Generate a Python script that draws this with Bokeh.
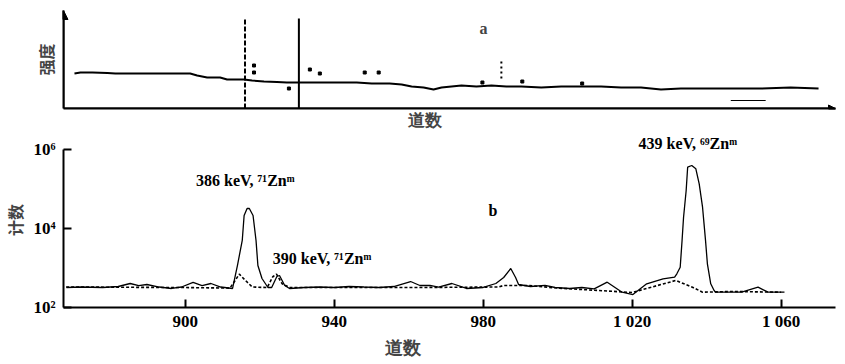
from bokeh.plotting import figure
from bokeh.layouts import column
from bokeh.models import FixedTicker, Label, Arrow, NormalHead, Range1d, Title
from bokeh.embed import file_html
from bokeh.resources import INLINE

# ---------------- data: panel a (full spectrum, arbitrary units) ----------------
a_channel = [11, 17, 29, 44, 52, 89, 127, 134, 144, 157, 164, 181, 189, 201, 214, 224,
             239, 259, 279, 294, 309, 327, 339, 349, 361, 371, 379, 389, 399, 414, 429,
             444, 459, 479, 499, 519, 539, 559, 579, 599, 619, 639, 659, 679, 699, 729, 757]
a_intensity = [35, 36, 36, 35.5, 35, 35, 35, 33, 31, 31, 29, 29, 28, 27, 26.5, 26,
               26, 26, 26, 26, 25, 25, 24, 22, 21, 19, 21, 22, 23, 22, 23,
               22, 22, 21, 22, 22, 22, 21, 21, 19, 20, 20, 20, 20, 20, 21, 20]
a_dot_x = [191, 191, 247, 257, 226, 302, 316, 420, 460, 520]
a_dot_y = [43, 36, 39, 35, 20, 36, 36, 26, 27, 25]
a_low_x = [669, 704]
a_low_y = [8, 8]
a_marker_x = [182, 236]
a_marker_top = [91, 90]
a_spike_x = [439]
a_spike_lo = [30]
a_spike_hi = [50]

# ---------------- data: panel b (zoomed gamma spectrum) ----------------
b_channel = [868.1, 872, 877.8, 882, 885.2, 887.5, 889.7, 893, 896.3, 899, 902.1, 904.5,
             906.9, 909.5, 912.7, 914.0, 915.3, 915.8, 916.6, 917.2, 918.2, 919.0, 919.5,
             920.6, 922.2, 923.2, 924.6, 925.3, 926.7, 928.0, 932, 936, 940, 944, 948, 952,
             956, 960.5, 963, 965.7, 968, 971.6, 975.5, 980, 983.4, 985.5, 987.4, 988.7,
             989.5, 992.7, 996.6, 999.3, 1003.2, 1006.5, 1009.8, 1013.3, 1017.3, 1020.2,
             1023.9, 1028.3, 1031.4, 1032.0, 1032.9, 1033.4, 1033.8, 1034.5, 1034.9, 1036.0,
             1037.1, 1038.0, 1038.9, 1039.3, 1039.7, 1040.2, 1041.1, 1042.0, 1042.4, 1049.4,
             1053.8, 1056.5, 1060.9]
b_counts = [321, 330, 321, 340, 405, 360, 382, 330, 303, 330, 430, 360,
            405, 330, 303, 1156, 4970, 21300, 32100, 32100, 21300, 4970, 1156,
            542, 321, 321, 609, 646, 361, 303, 321, 330, 321, 340, 330, 321,
            340, 455, 361, 361, 330, 405, 303, 321, 405, 574, 970, 574,
            382, 340, 361, 321, 303, 321, 297, 437, 244, 213,
            398, 533, 585, 713, 1047, 4970, 19300, 91600, 356000, 393000,
            324000, 135000, 34600, 13100, 4970, 1276, 398, 269, 244, 244,
            327, 244, 244]
bg_channel = [868, 900, 912, 913.5, 914.5, 916, 918, 922, 923.5, 924.5, 926, 928, 960,
              984, 985.5, 992, 1000, 1020, 1031.7, 1036.2, 1038.9, 1046.8, 1060]
bg_counts = [330, 320, 310, 500, 700, 500, 330, 320, 600, 700, 400, 320, 320,
             330, 361, 361, 310, 240, 483, 326, 244, 254, 244]
b_ticks_x = [900, 940, 980, 1020, 1060]
b_ticks_x_labels = ["900", "940", "980", "1 020", "1 060"]
b_ticks_y = [100, 10000, 1000000]
b_ticks_y_labels = ["10²", "10⁴", "10⁶"]

SERIF = "Liberation Serif"
CJK = "Noto Sans CJK SC"

# ---------------- panel a ----------------
pa = figure(width=845, height=132, x_range=Range1d(0, 774), y_range=Range1d(0, 98),
            output_backend="svg", toolbar_location=None,
            min_border_left=61, min_border_right=10, min_border_top=10, min_border_bottom=24)
pa.outline_line_color = None
pa.grid.visible = False
for ax in (pa.xaxis[0], pa.yaxis[0]):
    ax.ticker = FixedTicker(ticks=[])
    ax.axis_line_width = 2
    ax.axis_line_color = "black"
    ax.major_tick_in = 0
    ax.major_tick_out = 0
    ax.major_tick_line_color = None
    ax.minor_tick_line_color = None
    ax.major_label_standoff = 0
pa.xaxis.axis_label_standoff = 0
pa.yaxis.axis_label = "强度"
pa.yaxis.axis_label_text_font = CJK
pa.yaxis.axis_label_text_font_style = "bold"
pa.yaxis.axis_label_text_font_size = "16px"
pa.yaxis.axis_label_standoff = 6
pa.add_layout(Title(text="道数", align="left", offset=344, standoff=1,
                    text_font=SERIF, text_font_style="bold", text_font_size="17px"), "below")

pa.line(a_channel, a_intensity, line_color="black", line_width=2)
pa.scatter(a_dot_x, a_dot_y, marker="square", size=3, color="black")
pa.line(a_low_x, a_low_y, line_color="black", line_width=1)
pa.segment(x0=[a_marker_x[0]], y0=[0], x1=[a_marker_x[0]], y1=[a_marker_top[0]],
           line_color="black", line_width=2, line_dash="5 2")
pa.segment(x0=[a_marker_x[1]], y0=[0], x1=[a_marker_x[1]], y1=[a_marker_top[1]],
           line_color="black", line_width=2)
pa.segment(x0=a_spike_x, y0=a_spike_lo, x1=a_spike_x, y1=a_spike_hi,
           line_color="black", line_width=2, line_dash="2 3")
pa.add_layout(Arrow(end=NormalHead(size=9, fill_color="black", line_color="black"),
                    x_start=0, y_start=0, x_end=0, y_end=98, line_width=2))
pa.add_layout(Arrow(end=NormalHead(size=7, fill_color="black", line_color="black"),
                    x_start=0, y_start=0, x_end=774, y_end=0, line_width=2))
pa.add_layout(Label(x=421, y=80, text="a", text_font=SERIF, text_font_style="bold",
                    text_font_size="16px", text_align="center", text_baseline="middle"))

# ---------------- panel b ----------------
pb = figure(width=845, height=230, x_range=Range1d(867.3, 1074.6),
            y_range=Range1d(100, 10 ** 6.43),
            y_axis_type="log", output_backend="svg", toolbar_location=None,
            min_border_left=60, min_border_right=0, min_border_top=0, min_border_bottom=55)
pb.outline_line_color = None
pb.grid.visible = False
xa = pb.xaxis[0]
xa.ticker = FixedTicker(ticks=b_ticks_x)
xa.major_label_overrides = dict(zip(b_ticks_x, b_ticks_x_labels))
xa.axis_label_standoff = 0
ya = pb.yaxis[0]
ya.ticker = FixedTicker(ticks=b_ticks_y)
ya.major_label_overrides = dict(zip(b_ticks_y, b_ticks_y_labels))
ya.bounds = (b_ticks_y[0], b_ticks_y[-1])
for ax in (xa, ya):
    ax.axis_line_width = 2
    ax.axis_line_color = "black"
    ax.major_tick_in = 8
    ax.major_tick_out = 0
    ax.major_tick_line_width = 2
    ax.minor_tick_line_color = None
    ax.major_label_text_font = SERIF
    ax.major_label_text_font_style = "bold"
    ax.major_label_text_font_size = "17px"
    ax.major_label_text_color = "black"
xa.major_label_standoff = 4
ya.major_label_standoff = 8
ya.axis_label = "计数"
ya.axis_label_text_font = CJK
ya.axis_label_text_font_style = "bold"
ya.axis_label_text_font_size = "16px"
ya.axis_label_standoff = 3
pb.add_layout(Title(text="道数", align="left", offset=321, standoff=5,
                    text_font=SERIF, text_font_style="bold", text_font_size="18px"), "below")

pb.line(bg_channel, bg_counts, line_color="black", line_width=1.6, line_dash="3 2")
pb.line(b_channel, b_counts, line_color="black", line_width=1.3)

lab = dict(text_font=SERIF, text_font_style="bold", text_font_size="16px",
           text_baseline="middle", text_color="black")
pb.add_layout(Label(x=902.9, y=164000, text="386 keV, ⁷¹Znᵐ", text_align="left", **lab))
pb.add_layout(Label(x=923.5, y=1740, text="390 keV, ⁷¹Znᵐ", text_align="left", **lab))
pb.add_layout(Label(x=1021.7, y=1.4e6, text="439 keV, ⁶⁹Znᵐ", text_align="left", **lab))
pb.add_layout(Label(x=982.6, y=28600, text="b", text_align="center", **lab))

layout = column(pa, pb)
open("out.html", "w").write(file_html(layout, INLINE))
